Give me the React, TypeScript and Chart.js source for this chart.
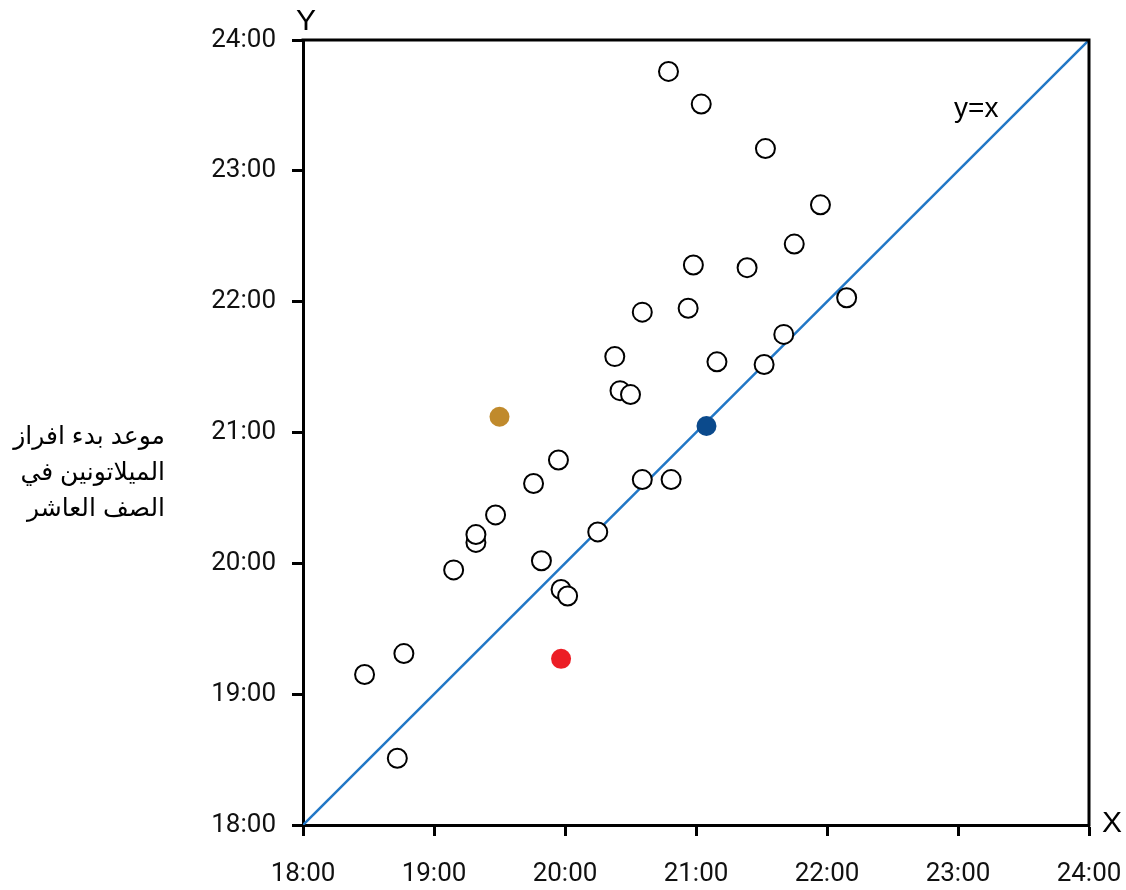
import React, { useEffect, useRef } from "react";
import { Chart, registerables } from "chart.js";

Chart.register(...registerables);

// Open circles (decimal hours)
const openX = [18.47, 18.77, 18.72, 19.15, 19.32, 19.32, 19.47, 19.76, 19.95, 19.82, 19.97, 20.02, 20.25, 20.59, 20.81, 20.42, 20.5, 20.38, 20.59, 20.94, 20.98, 21.16, 21.39, 21.52, 21.67, 21.75, 21.95, 22.15, 21.53, 21.04, 20.79];
const openY = [19.15, 19.31, 18.51, 19.95, 20.16, 20.22, 20.37, 20.61, 20.79, 20.02, 19.8, 19.75, 20.24, 20.64, 20.64, 21.32, 21.29, 21.58, 21.92, 21.95, 22.28, 21.54, 22.26, 21.52, 21.75, 22.44, 22.74, 22.03, 23.17, 23.51, 23.76];

// Highlighted points
const goldPoint = { x: 19.5, y: 21.12 };
const bluePoint = { x: 21.08, y: 21.05 };
const redPoint = { x: 19.97, y: 19.27 };

const tickValues = [18, 19, 20, 21, 22, 23, 24];
const tickLabels = ["18:00", "19:00", "20:00", "21:00", "22:00", "23:00", "24:00"];
const yTitleLines = ["موعد بدء افراز", "الميلاتونين في", "الصف العاشر"];
const diagonalLabel = "y=x";

export default function App() {
  const ref = useRef<HTMLCanvasElement>(null);

  useEffect(() => {
    const canvas = ref.current!;
    const labelOf = (v: number) => {
      const i = tickValues.indexOf(v);
      return i >= 0 ? tickLabels[i] : "";
    };
    const overlay = {
      id: "overlay",
      afterDatasetsDraw(chart: any) {
        const { ctx, chartArea } = chart;
        ctx.save();
        ctx.strokeStyle = "#000";
        ctx.lineWidth = 3;
        ctx.beginPath();
        ctx.moveTo(chartArea.left - 1.5, chartArea.top);
        ctx.lineTo(chartArea.right, chartArea.top);
        ctx.lineTo(chartArea.right, chartArea.bottom + 1.5);
        ctx.stroke();
        ctx.restore();
      },
      afterDraw(chart: any) {
        const { ctx, chartArea } = chart;
        ctx.save();
        ctx.fillStyle = "#000";
        ctx.font = "30px 'Liberation Sans', Arial, sans-serif";
        ctx.textAlign = "center";
        ctx.textBaseline = "alphabetic";
        ctx.fillText("Y", chartArea.left + 3, 30);
        ctx.textAlign = "left";
        ctx.fillText("X", chartArea.right + 13, 832);
        ctx.font = "28px 'Liberation Sans', Arial, sans-serif";
        const sx = chart.scales.x, sy = chart.scales.y;
        ctx.fillText(diagonalLabel, sx.getPixelForValue(22.97), sy.getPixelForValue(23.41));
        ctx.font = "25px 'Liberation Sans', Arial, 'DejaVu Sans', sans-serif";
        ctx.textAlign = "right";
        yTitleLines.forEach((t, i) => ctx.fillText(t, 165, 444 + i * 36));
        ctx.restore();
      },
    };

    const chart = new Chart(canvas, {
      type: "scatter",
      data: {
        datasets: [
          {
            data: [goldPoint],
            backgroundColor: "#c08a2c",
            borderWidth: 0,
            pointRadius: 10,
            order: 0,
          },
          {
            data: [bluePoint],
            backgroundColor: "#0b4a8c",
            borderWidth: 0,
            pointRadius: 10,
            order: 0,
          },
          {
            data: [redPoint],
            backgroundColor: "#ec1d25",
            borderWidth: 0,
            pointRadius: 10,
            order: 0,
          },
          {
            data: openX.map((x, i) => ({ x, y: openY[i] })),
            backgroundColor: "#ffffff",
            borderColor: "#000000",
            borderWidth: 2,
            pointRadius: 9.5,
            order: 1,
          },
          {
            type: "line",
            data: [
              { x: 18, y: 18 },
              { x: 24, y: 24 },
            ],
            borderColor: "#2177c6",
            borderWidth: 2.5,
            pointRadius: 0,
            fill: false,
            order: 2,
          } as any,
        ],
      },
      options: {
        animation: false,
        responsive: false,
        devicePixelRatio: 1,
        layout: { padding: { left: 0, right: 37, top: 40, bottom: 0 } },
        plugins: { legend: { display: false }, tooltip: { enabled: false } },
        scales: {
          x: {
            type: "linear",
            min: 18,
            max: 24,
            afterBuildTicks: (s: any) => {
              s.ticks = tickValues.map((v) => ({ value: v }));
            },
            afterFit: (s: any) => {
              s.height = 65;
              s.paddingLeft = 0;
              s.paddingRight = 0;
            },
            border: { display: true, color: "#000", width: 3 },
            grid: { drawOnChartArea: false, drawTicks: true, tickLength: 11, color: "#000", tickWidth: 3 },
            ticks: {
              callback: (v: any) => labelOf(Number(v)),
              color: "#111",
              font: { family: "Roboto", size: 26 },
              padding: 23,
              maxRotation: 0,
              autoSkip: false,
            },
          },
          y: {
            type: "linear",
            min: 18,
            max: 24,
            afterBuildTicks: (s: any) => {
              s.ticks = tickValues.map((v) => ({ value: v }));
            },
            afterFit: (s: any) => {
              s.width = 303;
              s.paddingTop = 0;
              s.paddingBottom = 0;
            },
            border: { display: true, color: "#000", width: 3 },
            grid: { drawOnChartArea: false, drawTicks: true, tickLength: 11, color: "#000", tickWidth: 3 },
            ticks: {
              callback: (v: any) => labelOf(Number(v)),
              color: "#111",
              font: { family: "Roboto", size: 26 },
              padding: 16,
              autoSkip: false,
            },
          },
        },
      },
      plugins: [overlay],
    } as any);
    return () => chart.destroy();
  }, []);

  return (
    <div style={{ position: "absolute", left: 0, top: 0, width: 1126, height: 890, background: "#fff" }}>
      <canvas ref={ref} width={1126} height={890} style={{ width: 1126, height: 890, display: "block" }} />
    </div>
  );
}
